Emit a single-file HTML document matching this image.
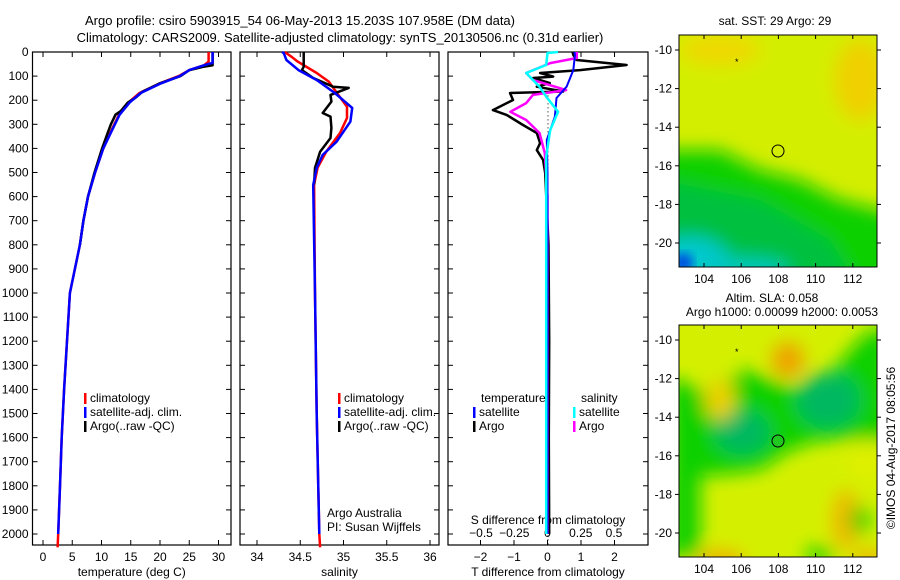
<!DOCTYPE html>
<html><head><meta charset="utf-8"><style>
html,body{margin:0;padding:0;background:#fff;}
svg{display:block;font-family:"Liberation Sans",sans-serif;}
text{font-size:12px;fill:#000;}
</style></head><body>
<svg id="fig" width="900" height="580" viewBox="0 0 900 580">
<defs>
<filter id="blur" x="-20%" y="-20%" width="140%" height="140%"><feGaussianBlur stdDeviation="9"/></filter>
<filter id="blur2" x="-20%" y="-20%" width="140%" height="140%"><feGaussianBlur stdDeviation="5"/></filter>
<clipPath id="c1"><rect x="679" y="35" width="198" height="232"/></clipPath>
<clipPath id="c2"><rect x="679" y="325" width="198" height="232"/></clipPath>
</defs>
<text x="300" y="25" text-anchor="middle" style="font-size:13px">Argo profile: csiro 5903915_54 06-May-2013 15.203S 107.958E (DM data)</text>
<text x="340" y="42" text-anchor="middle" style="font-size:13px">Climatology: CARS2009. Satellite-adjusted climatology: synTS_20130506.nc (0.31d earlier)</text>
<g id="p1"></g>
<g id="p2"></g>
<g id="p3"></g>
<g id="m1">
<g clip-path="url(#c1)">
<rect x="679" y="35" width="198" height="232" fill="#d4ee00"/>
<g filter="url(#blur)">
<polygon points="660,150 720,150 760,170 800,180 840,200 900,215 900,290 660,290" fill="#10d000"/>
<polygon points="660,180 760,200 830,240 860,290 660,290" fill="#00c040"/>
<ellipse cx="690" cy="262" rx="40" ry="25" fill="#00c8d0"/>
<ellipse cx="740" cy="270" rx="50" ry="12" fill="#00c8c0"/>
<ellipse cx="860" cy="80" rx="25" ry="40" fill="#f0d000"/>
<ellipse cx="720" cy="50" rx="40" ry="15" fill="#f0d800"/>
</g>
<ellipse cx="683" cy="263" rx="10" ry="10" fill="#0050e0" filter="url(#blur2)"/>
</g>
<circle cx="778" cy="151" r="6" fill="none" stroke="#000"/>
<text x="735" y="65" style="font-size:9px">*</text>
<rect x="679" y="35" width="198" height="232" fill="none" stroke="#000"/>
<text x="775" y="25" text-anchor="middle">sat. SST: 29 Argo: 29</text>
</g>
<g id="m2">
<g clip-path="url(#c2)">
<rect x="679" y="325" width="198" height="232" fill="#d4f000"/>
<g filter="url(#blur)">
<polygon points="679,380 700,390 720,385 745,370 800,390 830,375 850,350 870,330 890,330 890,440 850,440 820,440 790,450 760,470 720,475 700,475 700,557 670,557 670,380" fill="#10d000"/>
<ellipse cx="742" cy="432" rx="28" ry="22" fill="#00b860"/>
<ellipse cx="828" cy="400" rx="32" ry="28" fill="#00b860"/>
<ellipse cx="788" cy="360" rx="16" ry="18" fill="#f0a000"/>
<ellipse cx="720" cy="400" rx="15" ry="20" fill="#f0d000"/>
<ellipse cx="846" cy="520" rx="14" ry="30" fill="#f0b800"/>
<ellipse cx="720" cy="560" rx="25" ry="10" fill="#f0b000"/>
<ellipse cx="865" cy="460" rx="15" ry="20" fill="#e0f000"/>
<ellipse cx="860" cy="520" rx="10" ry="14" fill="#10d000"/>
<ellipse cx="870" cy="560" rx="15" ry="10" fill="#f0b000"/>
<ellipse cx="820" cy="555" rx="15" ry="8" fill="#10d000"/>
</g>
</g>
<circle cx="778" cy="441" r="6" fill="#20c820" stroke="#000"/>
<text x="735" y="355" style="font-size:9px">*</text>
<rect x="679" y="325" width="198" height="232" fill="none" stroke="#000"/>
<text x="772" y="302" text-anchor="middle">Altim. SLA: 0.058</text>
<text x="782" y="316" text-anchor="middle">Argo h1000: 0.00099 h2000: 0.0053</text>
</g>
<text transform="translate(895,448) rotate(-90)" text-anchor="middle">©IMOS 04-Aug-2017 08:05:56</text>
</svg>
<script>
const NS="http://www.w3.org/2000/svg";
// ---- data ----
const depthTicks=[0,100,200,300,400,500,600,700,800,900,1000,1100,1200,1300,1400,1500,1600,1700,1800,1900,2000];
const tempTicks=[0,5,10,15,20,25,30];
const salTicks=[34,34.5,35,35.5,36];
const tdiffTicks=[-2,-1,0,1,2];
const sdiffTicks=[-0.5,-0.25,0,0.25,0.5];
const lonTicks=[104,106,108,110,112];
const latTicks=[-10,-12,-14,-16,-18,-20];
const tClimDepth=[0,40,55,75,100,130,170,210,260,320,400,500,600,700,800,1000,1200,1400,1600,1800,2000,2055];
const tClim=[28.3,28.3,27.5,25,23.2,20,16.5,14.6,13,11.8,10.3,8.9,7.7,6.9,6.3,4.6,4.1,3.6,3.2,2.9,2.6,2.5];
const tSatDepth=[0,45,55,75,100,130,170,210,260,320,400,500,600,700,800,1000,1200,1400,1600,1800,2000];
const tSat=[29,29,27.5,25,23.4,20.2,16.7,14.8,13.1,11.9,10.3,8.9,7.7,6.9,6.3,4.6,4.1,3.6,3.2,2.9,2.6];
const tArgoDepth=[0,55,62,75,100,130,165,190,210,245,260,300,340,400,500,600,700,800];
const tArgo=[29,29,27.3,25,23.5,20,17,15.8,14.5,13.3,12.4,11.6,11,10.1,8.8,7.7,6.9,6.3];
const sClimDepth=[0,20,40,87,123,178,227,274,336,414,480,550,1000,1500,2000,2055];
const sClim=[34.32,34.4,34.47,34.69,34.83,34.94,35.04,35.04,34.96,34.8,34.7,34.66,34.67,34.69,34.72,34.73];
const sSatDepth=[0,5,33,75,116,170,232,289,372,427,481,552,1000,1500,2000];
const sSat=[34.29,34.31,34.34,34.48,34.69,34.9,35.1,35.08,34.92,34.76,34.69,34.65,34.67,34.69,34.72];
const sArgoDepth=[0,61,75,108,144,149,178,206,253,268,315,357,414,481,550];
const sArgo=[34.54,34.54,34.52,34.65,34.88,35.06,34.85,34.86,34.76,34.85,34.86,34.85,34.73,34.67,34.66];
const dTArgoDepth=[0,12,33,54,75,87,102,108,129,144,164,170,199,241,261,303,336,378,407,448,502,800,1200,1600,2000];
const dTArgo=[0.75,0.77,0.87,2.36,0.97,-0.22,0.17,-0.43,0.07,-0.32,0.47,-1.12,-1.03,-1.63,-1.22,-0.73,-0.32,-0.22,-0.32,-0.13,-0.07,0.03,0.05,0.04,0.05];
const dTSatDepth=[0,12,75,144,191,268,365,500,1000,2000];
const dTSat=[0.8,0.82,0.77,0.57,0.27,0.22,-0.02,0,0,0];
const dSArgoDepth=[0,25,46,87,116,158,178,212,248,282,336,419,600,2000];
const dSArgo=[0.22,0.22,0.02,-0.16,-0.11,0.14,-0.11,-0.16,-0.28,-0.16,-0.06,-0.02,0,0];
const dSSatDepth=[0,4,54,87,144,185,248,324,434,800,2000];
const dSSat=[0.08,0,-0.01,-0.16,-0.06,-0.01,0.08,0.02,-0.01,-0.01,-0.01];
// ---- scales ----
const Y0=52,YB=545;
const yD=d=>Y0+d*0.241;
const xT=v=>43+v*5.85;
const xS=v=>257+(v-34)*86.5;
const xdT=v=>547.5+v*33.5;
const xdS=v=>547.5+v*133;
const mX=v=>704+(v-104)*18.6;
const m1Y=v=>50+(-10-v)*19.3;
const m2Y=v=>340+(-10-v)*19.3;
function el(tag,attrs,parent,txt){const e=document.createElementNS(NS,tag);for(const k in attrs)e.setAttribute(k,attrs[k]);if(txt!==undefined)e.textContent=txt;parent.appendChild(e);return e;}
function line(xs,ds,fx,color,w,parent,name){let d="";for(let i=0;i<xs.length;i++){d+=(i?"L":"M")+fx(xs[i]).toFixed(1)+" "+yD(ds[i]).toFixed(1);}
const p=el("path",{d:d,fill:"none",stroke:color,"stroke-width":w,"stroke-linejoin":"round"},parent);


return p;}
function frame(g,x0,x1,ticks,fx,xlab,ylabels){
el("rect",{x:x0,y:Y0,width:x1-x0,height:YB-Y0,fill:"#fff",stroke:"#000","stroke-width":1.2},g);
depthTicks.forEach(d=>{el("line",{x1:x0,x2:x0+5,y1:yD(d),y2:yD(d),stroke:"#000"},g);el("line",{x1:x1,x2:x1-5,y1:yD(d),y2:yD(d),stroke:"#000"},g);
if(ylabels){const t=el("text",{x:x0-4,y:yD(d)+4,"text-anchor":"end"},g,String(d));

}});
ticks.forEach(v=>{const x=fx(v);el("line",{x1:x,x2:x,y1:YB,y2:YB-5,stroke:"#000"},g);el("line",{x1:x,x2:x,y1:Y0,y2:Y0+5,stroke:"#000"},g);
const t=el("text",{x:x,y:561,"text-anchor":"middle"},g,String(v).replace("-","\u2212"));

});
const xl=el("text",{x:(x0+x1)/2,y:576,"text-anchor":"middle"},g,xlab);

}
function legend(g,x,y,items){items.forEach((it,i)=>{
const m=el("rect",{x:x,y:y+i*14-9,width:2.5,height:11,fill:it[0]},g);


const t=el("text",{x:x+6,y:y+i*14},g,it[1]);

});}
// panel 1
const p1=document.getElementById("p1");
frame(p1,32.5,231,tempTicks,xT,"temperature (deg C)",true);
line(tClim,tClimDepth,xT,"#f00",2.5,p1,"temp-climatology-line");
line(tArgo,tArgoDepth,xT,"#000",2.5,p1,"temp-argo-line");
line(tSat,tSatDepth,xT,"#00f",2.5,p1,"temp-satellite-line");
legend(p1,84,402,[["#f00","climatology"],["#00f","satellite-adj. clim."],["#000","Argo(..raw -QC)"]]);
// panel 2
const p2=document.getElementById("p2");
frame(p2,240,439,salTicks,xS,"salinity",false);
line(sClim,sClimDepth,xS,"#f00",2.5,p2,"sal-climatology-line");
line(sArgo,sArgoDepth,xS,"#000",2.5,p2,"sal-argo-line");
line(sSat,sSatDepth,xS,"#00f",2.5,p2,"sal-satellite-line");
legend(p2,338,402,[["#f00","climatology"],["#00f","satellite-adj. clim."],["#000","Argo(..raw -QC)"]]);
el("text",{x:327,y:517},p2,"Argo Australia");
el("text",{x:327,y:531},p2,"PI: Susan Wijffels");
// panel 3
const p3=document.getElementById("p3");
frame(p3,448,648,tdiffTicks,xdT,"T difference from climatology",false);
el("line",{x1:548,x2:548,y1:yD(180),y2:YB,stroke:"#000","stroke-dasharray":"1 3"},p3);
sdiffTicks.forEach(v=>{const t=el("text",{x:xdS(v),y:537,"text-anchor":"middle"},p3,String(v).replace("-","\u2212"));

});
el("text",{x:548,y:524,"text-anchor":"middle"},p3,"S difference from climatology");
line(dTArgo,dTArgoDepth,xdT,"#000",2.5,p3,"tdiff-argo-line");
line(dSArgo,dSArgoDepth,xdS,"#f0f",2.5,p3,"sdiff-argo-line");
line(dTSat,dTSatDepth,xdT,"#00f",2,p3,"tdiff-satellite-line");
line(dSSat,dSSatDepth,xdS,"#0ff",2.5,p3,"sdiff-satellite-line");
el("text",{x:481,y:402},p3,"temperature");
el("text",{x:581,y:402},p3,"salinity");
legend(p3,473,416,[["#00f","satellite"],["#000","Argo"]]);
legend(p3,573,416,[["#0ff","satellite"],["#f0f","Argo"]]);
// maps
[["m1",m1Y,35,267],["m2",m2Y,325,557]].forEach(([id,fy,t,b])=>{const g=document.getElementById(id);
lonTicks.forEach(v=>{const x=mX(v);el("line",{x1:x,x2:x,y1:t,y2:t+4,stroke:"#000"},g);el("line",{x1:x,x2:x,y1:b,y2:b-4,stroke:"#000"},g);
const tl=el("text",{x:x,y:b+16,"text-anchor":"middle"},g,String(v));

});
latTicks.forEach(v=>{const y=fy(v);el("line",{x1:679,x2:675,y1:y,y2:y,stroke:"#000"},g);el("line",{x1:877,x2:881,y1:y,y2:y,stroke:"#000"},g);
const tl=el("text",{x:672,y:y+4,"text-anchor":"end"},g,String(v));

});});
</script>
</body></html>
